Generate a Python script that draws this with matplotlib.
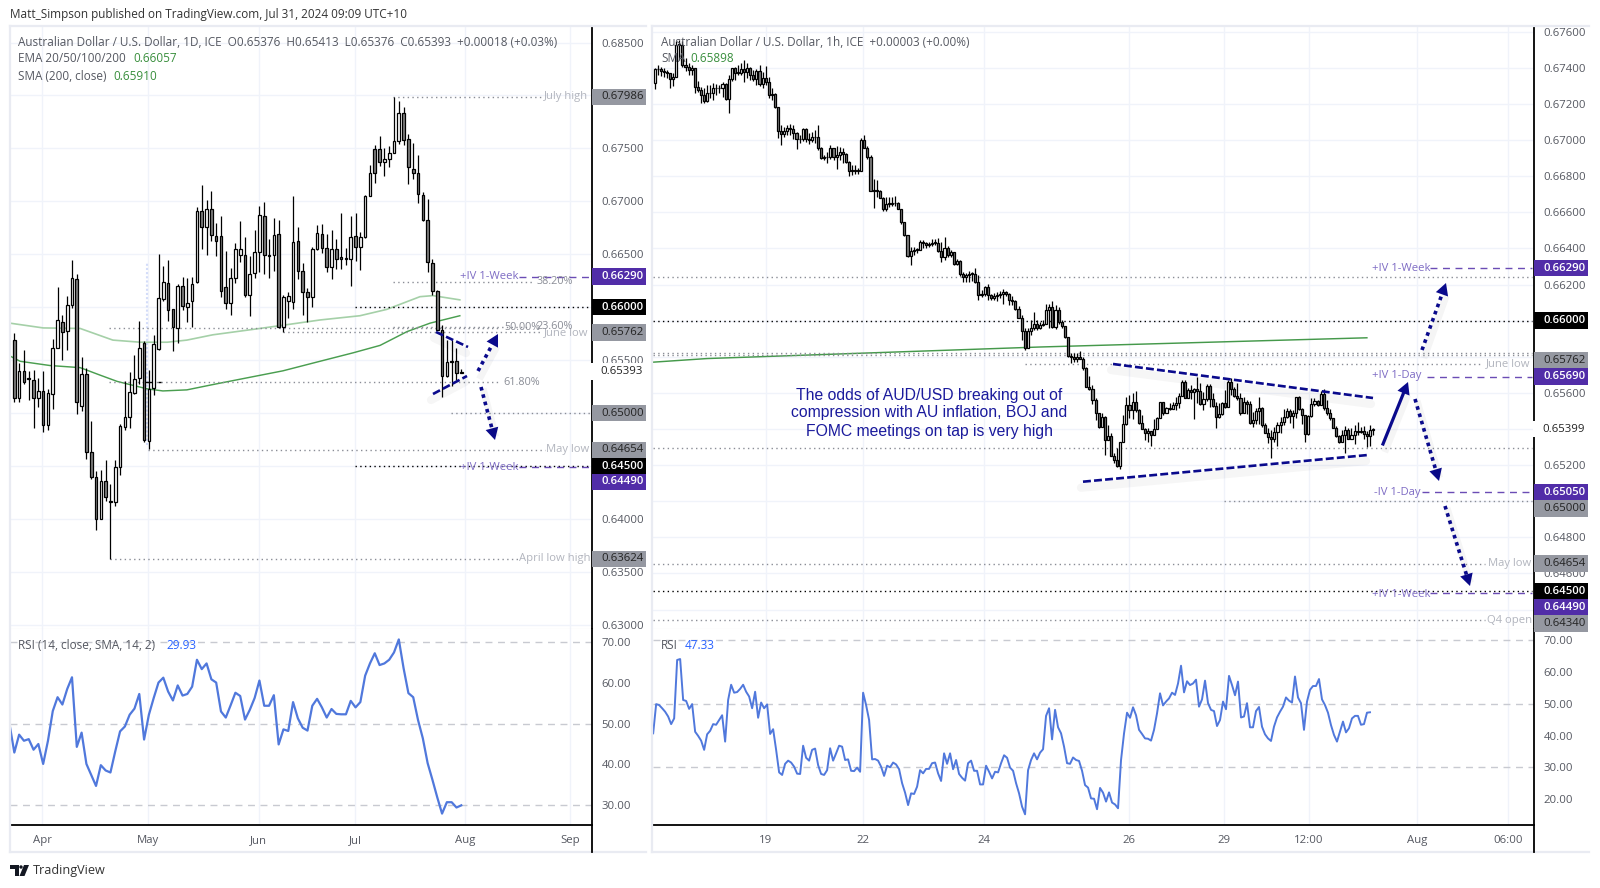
import numpy as np
import matplotlib
matplotlib.use('Agg')
import matplotlib.pyplot as plt
from matplotlib.patches import Rectangle, Polygon

plt.rcParams['font.family'] = ['Open Sans', 'DejaVu Sans']

# daily candles, in pips (1e-4)
d_open = [6569,6514,6540,6533,6531,6514,6521,6489,6518,6562,
          6586,6578,6602,6627,6507,6537,6463,6440,6400,6436,
          6417,6416,6449,6487,6496,6519,6533,6566,6474,6524,
          6561,6608,6623,6598,6580,6620,6600,6606,6624,6691,
          6676,6693,6667,6667,6619,6604,6628,6649,6649,6612,
          6632,6652,6686,6649,6649,6669,6581,6606,6605,6663,
          6634,6614,6610,6655,6669,6656,6638,6655,6647,6646.5,
          6646,6667,6657,6666,6705,6749,6749,6737,6740,6746,
          6757,6783,6759,6731,6727,6706,6682,6642,6615,6579,
          6535,6548,6549,6537.6]
d_high = [6576,6547,6560,6540,6541,6533,6540,6523,6570,6619,
          6593,6611,6645,6631,6553,6543,6493,6445,6446,6456,
          6433,6456,6490,6530,6539,6555,6587,6568,6541,6574,
          6650,6639,6645,6598,6622,6629,6628,6629,6695,6715,
          6701,6710,6680,6686,6653,6637,6661,6681,6666,6648,
          6673,6696,6699,6664,6684,6682,6612,6614,6705,6676,
          6642,6618,6657,6678,6679,6669,6673,6664,6689,6656,
          6686,6689,6671,6706,6734,6753,6762,6750,6752,6799,
          6795,6789,6764,6755,6744,6709,6702,6646,6616,6583,
          6569,6569,6562,6541.3]
d_low = [6511,6511,6528,6512,6486,6506,6482,6484,6504,6562,
         6550,6560,6599,6499,6502,6457,6438,6390,6400,6417,
         6362,6412,6442,6484,6486,6518,6528,6473,6466,6517,
         6560,6606,6587,6559,6566,6597,6586,6581,6623,6655,
         6649,6663,6648,6610,6598,6593,6623,6643,6610,6592,
         6628,6633,6631,6628,6634,6580,6577,6590,6598,6627,
         6593,6586,6600,6654,6651,6633,6627,6636,6636,6640,
         6620,6644,6635,6665,6705,6717,6733,6724,6732,6746,
         6754,6753,6716,6721,6698,6681,6633,6612,6579,6515,
         6534,6526,6531,6537.6]
d_close = [6514,6540,6529,6532,6514,6521,6489,6519,6562,6588,
           6577,6602,6628,6511,6537,6463,6440,6400,6436,6421,
           6416,6449,6488,6496,6520,6532,6562,6475,6523,6565,
           6609,6624,6597,6581,6620,6601,6604,6622,6691,6676,
           6693,6668,6663,6615,6604,6628,6655,6655,6612,6631,
           6652,6687,6649,6648,6668,6581,6610,6611,6662,6634,
           6614,6610,6655,6670,6656,6638,6655,6646,6646,6646,
           6666,6657,6666,6705,6727,6727,6737,6740,6746,6757,
           6783,6758,6732,6727,6707,6682,6643,6615,6579,6535,
           6548,6549,6538,6539.3]

# moving averages on the daily chart
ema_idx = [-0.9,6,13.7,20.5,26.2,31.8,35.9,41.3,51.1,57.4,63.6,71.9,77.5,84.4,87.1,92.7]
ema_val = [6585,6580.5,6580,6569,6567,6567,6569,6574,6580,6584,6588,6592,6598,6610,6611,6607]
sma_idx = [-0.9,1.2,7.4,13.7,17.8,21.4,27.6,30.9,35.9,41.3,46.9,55.9,63.6,70.5,76.1,81.7,86.5,92.7]
sma_val = [6554,6549,6545,6543,6536,6530,6523,6521,6522,6527,6532,6540,6549,6557,6564,6577,6585,6592]

d_rsi = [49.9,42.9,47.3,45.8,46.2,43.6,45.0,40.1,45.8,53.1,56.5,54.7,58.5,61.4,44.3,47.8,40.1,37.4,34.7,39.8,
         38.5,38.0,43.2,48.1,49.3,52.2,53.7,57.3,46.1,52.2,56.3,60.1,61.3,57.9,55.7,59.4,56.9,57.3,59.1,65.7,
         63.4,64.8,60.9,60.1,53.0,51.5,54.5,57.6,56.8,51.0,53.4,56.3,60.6,54.4,54.4,57.0,44.9,48.6,48.2,55.3,
         51.3,49.0,48.3,54.4,56.1,54.0,51.5,53.6,52.4,52.3,52.3,55.6,54.0,55.3,61.8,64.8,67.3,64.4,64.8,65.7,
         67.5,70.7,63.6,57.5,56.5,50.9,46.4,40.3,36.2,31.9,27.9,30.7,30.7,29.4,29.93]

# hourly candles, in pips
h_first_open = 6731.8
h_close = [6739.2,6739.2,6738.4,6737.9,6737.0,6733.6,6735.1,6752.6,6752.6,6741.6,
           6740.6,6738.8,6739.7,6729.6,6727.7,6724.9,6721.8,6725.9,6726.2,6728.6,
           6729.0,6728.6,6731.0,6722.5,6733.6,6739.7,6737.3,6737.3,6739.5,6737.9,
           6739.7,6736.0,6733.6,6738.4,6731.0,6734.2,6732.3,6724.9,6725.5,6718.1,
           6705.2,6703.3,6705.2,6706.5,6705.9,6703.7,6700.4,6700.4,6706.3,6700.6,
           6700.0,6701.9,6701.5,6695.4,6690.2,6690.4,6690.8,6695.4,6690.4,6691.7,
           6693.2,6692.3,6688.0,6683.0,6683.0,6683.0,6683.0,6700.0,6695.9,6690.4,
           6671.9,6672.3,6671.9,6668.2,6661.6,6664.5,6664.5,6664.9,6665.3,6662.1,
           6654.4,6647.4,6635.9,6638.7,6639.1,6639.4,6643.7,6642.8,6641.8,6642.2,
           6643.1,6643.1,6638.7,6635.0,6640.0,6636.3,6638.0,6631.1,6633.2,6625.8,
           6623.9,6625.2,6625.8,6626.1,6621.5,6614.1,6614.7,6618.7,6614.1,6612.8,
           6613.6,6614.1,6615.0,6616.0,6615.0,6611.7,6611.0,6606.7,6601.7,6594.4,
           6585.1,6594.4,6595.7,6598.4,6595.7,
           6597.5,6598.4,6605.8,6607.7,6596.6,6605.8,6599.0,6597.0,6590.7,6580.3,
           6580.0,6579.0,6580.0,6579.0,6573.5,6563.3,6561.9,6556.0,6548.8,
           6541.3,6546.4,6533.9,6536.1,6525.0,6522.8,6519.5,6533.0,6542.7,6553.3,
           6550.5,6555.1,6550.5,6543.1,6540.0,6537.9,6539.0,6536.6,6539.8,6545.9,
           6554.7,6548.6,6551.4,6550.9,6553.3,6554.6,6558.3,6565.8,6557.0,6561.6,
           6560.3,6561.9,6561.0,6553.6,6556.4,6563.8,6556.4,6552.7,6546.4,6548.1,
           6554.6,6552.3,6565.8,6561.9,6558.3,
           6556.9,6549.0,6555.0,6554.1,6543.4,6544.9,6549.9,6551.4,6542.1,6537.9,
           6535.7,6534.7,6538.4,6542.1,6544.0,6546.4,6550.1,6547.1,6548.6,6557.5,
           6550.8,6547.7,6537.1,6547.3,6553.6,6555.6,6553.2,6559.3,6551.4,6548.6,
           6545.8,6540.8,6536.0,6532.9,6536.6,6539.4,6534.7,6536.6,6539.0,6538.1,
           6538.8,6537.0,6536.0,6539.4,6539.9]
h_high = [6739.7,6741.6,6740.6,6739.7,6738.8,6736.0,6737.0,6755.0,6755.4,6755.0,
          6745.3,6742.5,6741.6,6740.1,6732.7,6729.6,6728.6,6730.5,6730.5,6731.4,
          6730.9,6730.5,6732.3,6731.4,6736.0,6740.1,6740.3,6741.6,6742.9,6744.3,
          6742.5,6740.6,6738.8,6739.2,6741.6,6737.9,6741.2,6734.7,6728.6,6726.2,
          6718.5,6708.3,6707.0,6708.3,6708.9,6708.3,6704.6,6702.8,6706.8,6706.5,
          6703.7,6704.6,6705.5,6708.3,6696.3,6691.7,6693.5,6697.2,6695.4,6696.7,
          6696.3,6695.4,6692.6,6688.6,6686.2,6686.2,6684.3,6700.9,6702.8,6696.7,
          6691.7,6678.2,6677.8,6672.3,6668.6,6668.6,6668.6,6668.6,6669.0,6665.8,
          6662.1,6654.8,6647.4,6640.9,6640.9,6640.0,6644.6,6644.6,6643.7,6643.7,
          6645.0,6645.0,6645.5,6643.7,6646.4,6641.3,6639.4,6638.1,6634.4,6633.5,
          6627.0,6626.5,6627.6,6627.0,6629.4,6625.2,6616.9,6619.1,6620.2,6615.0,
          6615.4,6616.0,6616.5,6617.3,6616.5,6615.4,6613.6,6611.4,6608.0,6603.0,
          6595.7,6595.7,6600.3,6604.9,6600.3,
          6599.4,6600.6,6609.1,6609.1,6610.8,6608.6,6607.7,6600.3,6597.0,6591.0,
          6582.2,6581.8,6582.2,6583.1,6580.0,6574.1,6569.2,6564.3,6557.1,
          6548.6,6549.0,6547.2,6542.2,6537.6,6526.5,6529.3,6533.0,6547.7,6557.9,
          6558.8,6559.7,6561.0,6550.9,6547.7,6540.3,6540.3,6539.0,6545.3,6546.8,
          6555.1,6555.1,6552.3,6554.6,6555.1,6557.9,6559.7,6567.1,6567.1,6562.5,
          6564.3,6562.5,6568.6,6565.3,6560.7,6564.9,6564.9,6559.7,6555.1,6554.2,
          6555.1,6561.6,6567.1,6568.0,6563.4,
          6565.2,6559.7,6557.8,6556.0,6555.6,6549.5,6551.4,6557.5,6551.9,6543.4,
          6540.3,6539.4,6541.2,6544.0,6546.4,6550.8,6551.4,6550.8,6550.4,6557.8,
          6558.2,6551.4,6548.0,6547.7,6556.9,6556.9,6556.3,6561.1,6562.4,6556.0,
          6550.8,6546.2,6541.6,6536.6,6539.4,6541.6,6540.8,6540.3,6542.1,6544.0,
          6541.2,6541.6,6539.0,6542.1,6540.6]
h_low = [6728.1,6736.0,6735.5,6735.1,6734.2,6729.0,6729.9,6734.7,6744.3,6740.6,
         6738.4,6736.0,6736.0,6726.2,6726.8,6720.7,6720.3,6721.2,6723.1,6722.2,
         6724.9,6725.9,6724.0,6722.2,6715.2,6732.9,6733.3,6736.0,6736.0,6732.3,
         6734.2,6733.3,6732.9,6730.5,6730.1,6728.6,6730.5,6723.1,6722.2,6717.7,
         6700.9,6697.2,6701.9,6702.8,6702.8,6700.4,6694.8,6698.2,6699.6,6699.1,
         6697.8,6699.1,6698.2,6694.5,6689.3,6688.9,6687.1,6689.8,6688.9,6683.8,
         6688.9,6687.1,6687.1,6680.1,6680.6,6681.2,6681.5,6684.3,6695.4,6689.8,
         6671.6,6662.5,6668.6,6667.7,6660.9,6660.9,6663.1,6663.4,6663.4,6661.6,
         6653.8,6646.8,6635.4,6630.8,6636.3,6637.6,6639.4,6640.0,6640.5,6640.9,
         6641.3,6641.8,6638.1,6632.6,6633.5,6635.0,6635.0,6630.8,6630.8,6624.6,
         6621.5,6621.5,6621.5,6622.1,6620.9,6611.7,6613.2,6613.6,6611.4,6611.4,
         6611.4,6611.0,6612.3,6609.1,6613.6,6608.6,6608.6,6605.8,6601.2,6589.2,
         6583.6,6584.6,6592.0,6594.7,6594.7,
         6595.1,6597.0,6597.9,6596.2,6596.2,6595.1,6597.9,6596.2,6590.3,6580.0,
         6576.6,6577.2,6577.2,6578.5,6572.9,6563.0,6561.5,6554.1,6544.9,
         6540.3,6541.3,6525.6,6533.9,6525.0,6520.9,6518.7,6517.6,6533.0,6542.2,
         6545.9,6545.3,6549.6,6542.7,6539.8,6533.9,6533.0,6530.5,6536.6,6539.8,
         6545.9,6547.7,6549.0,6550.5,6550.9,6550.5,6551.4,6558.8,6557.0,6557.3,
         6556.4,6545.3,6554.2,6553.3,6550.5,6555.7,6552.3,6552.3,6540.7,6545.9,
         6547.7,6551.4,6554.7,6558.8,6557.9,
         6556.3,6548.0,6548.6,6548.2,6543.0,6541.2,6543.0,6542.7,6541.2,6537.5,
         6532.3,6524.0,6532.9,6530.5,6537.9,6542.1,6545.8,6543.4,6540.8,6545.8,
         6550.4,6542.7,6532.9,6536.6,6546.7,6552.7,6552.7,6554.1,6550.4,6547.7,
         6544.9,6540.3,6535.7,6532.5,6533.4,6526.8,6534.2,6534.7,6531.6,6536.6,
         6537.5,6534.7,6530.1,6530.5,6536.6]

h_sma_idx = [-0.5,17,125,231]
h_sma_val = [6577,6579,6585.4,6590.5]

h_rsi = [40.7,49.9,49.6,48.6,47.5,46.0,43.6,45.4,63.8,64.1,51.2,50.9,48.4,49.9,41.2,39.9,38.4,35.5,40.4,41.5,
         43.6,43.4,44.9,46.4,38.1,51.2,56.0,53.5,53.7,54.7,56.0,53.8,52.3,48.6,53.8,45.6,50.4,48.6,49.8,40.5,
         42.0,35.5,28.4,27.6,31.1,32.1,31.5,30.2,28.0,27.9,36.8,33.0,32.1,35.5,35.9,30.7,27.9,27.6,29.1,36.0,
         32.1,34.4,36.8,36.5,32.3,32.5,28.9,28.8,29.9,28.6,53.5,49.6,44.9,32.5,32.6,32.1,30.2,27.3,30.5,30.0,
         31.5,30.9,29.4,25.0,22.0,18.1,21.8,21.6,23.9,29.1,28.1,29.5,29.5,31.3,31.5,28.1,25.7,34.4,31.1,34.4,
         29.4,32.3,27.9,26.7,25.8,31.3,32.1,28.9,28.9,24.6,24.6,30.5,28.6,26.5,28.6,28.4,31.3,33.8,33.0,29.9,
         28.9,25.0,21.8,17.6,15.2,29.1,32.3,34.4,32.5,34.6,35.7,46.2,48.6,38.8,48.1,42.6,40.7,36.5,31.3,31.1,
         33.1,32.3,32.0,28.9,24.4,23.6,20.2,20.1,16.8,23.5,22.0,19.2,22.1,18.9,18.3,17.1,32.3,40.7,47.2,45.6,
         48.9,46.4,41.8,40.5,39.1,39.0,38.4,41.8,47.0,53.3,49.5,50.7,51.7,53.5,52.8,56.4,62.0,53.6,57.1,55.9,
         56.4,57.6,49.1,51.4,57.3,50.2,48.1,47.7,43.0,44.9,50.7,48.3,58.8,55.9,52.7,57.0,45.7,46.0,50.2,42.6,
         42.6,47.7,49.0,42.8,40.4,39.1,38.3,42.8,45.7,47.5,49.1,52.0,51.0,50.4,58.6,52.0,50.2,41.8,50.7,54.4,
         55.6,55.6,57.8,51.4,49.6,47.2,43.3,40.2,38.1,41.2,44.4,41.0,42.3,45.4,46.2,46.2,43.4,43.6,47.2,47.33]

d_ticks = [0.685,0.68,0.675,0.67,0.665,0.66,0.655,0.65,0.645,0.64,0.635,0.63]
h_ticks = [0.676,0.674,0.672,0.67,0.668,0.666,0.664,0.662,0.66,0.658,0.656,0.654,0.652,0.65,0.648,0.646,0.644]
rsi_ticks = [70,60,50,40,30]
h_rsi_ticks = [70,60,50,40,30,20]
d_time_pos = [5.8,27.8,50.9,70.9,93.8,115.7]
d_time_lab = ['Apr','May','Jun','Jul','Aug','Sep']
h_time_pos = [36.1,67.6,106.8,153.7,184.7,212.2,247.2,276.8]
h_time_lab = ['19','22','24','26','29','12:00','Aug','06:00']

W, H = 1600, 888
GRID = '#f0f3fa'
TXT = '#555861'
LVL = '#8a8d96'
LAB = '#b2b5be'
IV = '#7e6cc4'
NAVY = '#0a0a8c'
GREY_BOX = '#9598a1'
PURPLE = '#512da8'


def px_axes(x0, y0, x1, y1):
    return fig.add_axes([x0 / W, 1 - y1 / H, (x1 - x0) / W, (y1 - y0) / H])


def style_axes(ax):
    ax.yaxis.tick_right()
    ax.tick_params(axis='both', length=0, labelsize=8.2, labelcolor=TXT, pad=7)
    for s in ['top', 'left']:
        ax.spines[s].set_visible(False)
    ax.spines['right'].set_color('black')
    ax.spines['right'].set_linewidth(1.3)


def draw_candles(ax, o, h, l, c, width):
    x = np.arange(len(c))
    o, h, l, c = [np.array(v) / 1e4 for v in (o, h, l, c)]
    ax.vlines(x, l, h, color='black', lw=0.9, zorder=3)
    colors = ['white' if cc >= oo else '#808080' for oo, cc in zip(o, c)]
    bodies = np.maximum(np.abs(c - o), 0.00004)
    ax.bar(x, bodies, bottom=np.minimum(o, c), width=width, color=colors,
           edgecolor='black', linewidth=0.9, zorder=4)


fig = plt.figure(figsize=(16, 8.88), dpi=100, facecolor='white')

# --- daily chart ---
ax1 = px_axes(10, 26, 592, 629)
ax1.set_xlim(-0.9, 120.2)
ax1.set_ylim(0.62962, 0.68656)
style_axes(ax1)
ax1.spines['bottom'].set_color('#e0e3eb')
ax1.set_yticks(d_ticks)
# the boxes below carry these three prices
ax1.set_yticklabels(['' if t in (0.66, 0.65, 0.645) else '%.5f' % t for t in d_ticks])
ax1.set_xticks(d_time_pos)
ax1.set_xticklabels([])
ax1.grid(True, color=GRID, lw=1, zorder=0)
ax1.set_axisbelow(True)

ax1.vlines(27.6, 0.647, 0.66418, color='#d3dcf9', lw=1.5, ls=(0, (1, 1)), zorder=2)
ax1.plot(np.array(ema_idx), np.array(ema_val) / 1e4, color='#a5d0a8', lw=1.2, zorder=2)
ax1.plot(np.array(sma_idx), np.array(sma_val) / 1e4, color='#4a9e50', lw=1.05, zorder=2)
draw_candles(ax1, d_open, d_high, d_low, d_close, 0.55)
ax1.hlines([0.6529, 0.6529], [27.2, 29.8], [28.6, 30.6], color='black', lw=1, zorder=3)

dot = (0, (1, 2.4))
for price, x0, x1 in [(0.67986, 78.8, 109.8), (0.6624, 78.8, 107.9), (0.65817, 78.8, 107),
                      (0.65805, 19.7, 100.6), (0.65762, 55.9, 109.4), (0.65292, 19.7, 100.6),
                      (0.65, 90.9, 119.8), (0.64654, 27.8, 110.4), (0.63624, 19.9, 105)]:
    ax1.hlines(price, x0, x1, color=LVL, lw=1, ls=dot, zorder=2)
for price in [0.66, 0.645]:
    ax1.hlines(price, 70.9, 119.8, color='black', lw=1, ls=dot, zorder=2)
for price in [0.6629, 0.6449]:
    ax1.hlines(price, 105, 119.8, color=PURPLE, lw=1, ls=(0, (5, 4)), alpha=0.85, zorder=2)

ax2 = px_axes(10, 629, 592, 825)
ax2.set_xlim(-0.9, 120.2)
ax2.set_ylim(25.1, 73.26)
style_axes(ax2)
ax2.spines['bottom'].set_color('black')
ax2.spines['bottom'].set_linewidth(1.3)
ax2.set_yticks(rsi_ticks)
ax2.set_yticklabels(['%.2f' % t for t in rsi_ticks])
ax2.set_xticks(d_time_pos)
ax2.set_xticklabels(d_time_lab)
ax2.grid(True, axis='x', color=GRID, lw=1, zorder=0)
ax2.set_axisbelow(True)
ax2.hlines([70, 50, 30], -0.9, 120.2, color='#c8cad1', lw=1, ls=(0, (5, 4)), zorder=1)
ax2.plot(np.arange(len(d_rsi)) - 1, d_rsi, color='#5078dc', lw=1.6, zorder=3)

# --- hourly chart ---
H_XLIM = (-0.55, 285.2)
ax3 = px_axes(653, 26, 1534, 629)
ax3.set_xlim(*H_XLIM)
ax3.set_ylim(0.64292, 0.67632)
style_axes(ax3)
ax3.spines['bottom'].set_color('#e0e3eb')
ax3.set_yticks(h_ticks)
ax3.set_yticklabels(['' if t in (0.66, 0.654, 0.65, 0.644) else '%.5f' % t for t in h_ticks])
ax3.set_xticks(h_time_pos)
ax3.set_xticklabels([])
ax3.grid(True, color=GRID, lw=1, zorder=0)
ax3.set_axisbelow(True)

ax3.plot(h_sma_idx, np.array(h_sma_val) / 1e4, color='#45994b', lw=1.05, zorder=2)
h_open = [h_first_open] + h_close[:-1]
draw_candles(ax3, h_open, h_high, h_low, h_close, 0.68)

x_end = 284.6
for price, x0, x1 in [(0.6624, -0.55, x_end), (0.65822, -0.55, x_end), (0.6581, -0.55, x_end),
                      (0.65762, 120, 268.7), (0.65293, -0.55, x_end), (0.65, 184.8, x_end),
                      (0.64654, -0.55, 269.3), (0.6434, -0.55, 269.3)]:
    ax3.hlines(price, x0, x1, color=LVL, lw=1, ls=dot, zorder=2)
for price in [0.66, 0.645]:
    ax3.hlines(price, -0.55, x_end, color='black', lw=1, ls=dot, zorder=2)
for price, x0 in [(0.6629, 251.5), (0.6569, 250.5), (0.6505, 248.9), (0.6449, 251.5)]:
    ax3.hlines(price, x0, x_end, color=PURPLE, lw=1, ls=(0, (5, 4)), alpha=0.85, zorder=2)

ax4 = px_axes(653, 629, 1534, 825)
ax4.set_xlim(*H_XLIM)
ax4.set_ylim(11.83, 73.56)
style_axes(ax4)
ax4.spines['bottom'].set_color('black')
ax4.spines['bottom'].set_linewidth(1.3)
ax4.set_yticks(h_rsi_ticks)
ax4.set_yticklabels(['%.2f' % t for t in h_rsi_ticks])
ax4.set_xticks(h_time_pos)
ax4.set_xticklabels(h_time_lab)
ax4.grid(True, axis='x', color=GRID, lw=1, zorder=0)
ax4.set_axisbelow(True)
ax4.hlines([70, 50, 30], *H_XLIM, color='#c8cad1', lw=1, ls=(0, (5, 4)), zorder=1)
# the rsi list was read a little denser than the candles, so it spans the same bars
ax4.plot(np.linspace(-0.5, 232, len(h_rsi)), h_rsi, color='#5078dc', lw=1.4, zorder=3)

# --- overlay in pixels: labels, drawings, frame ---
ov = fig.add_axes([0, 0, 1, 1], facecolor='none', zorder=20)
ov.set_xlim(0, W)
ov.set_ylim(H, 0)
ov.axis('off')


def txt(x, y, s, color=TXT, size=8.5, ha='left', **kw):
    ov.text(x, y, s, color=color, fontsize=size, ha=ha, va='center', **kw)


def price_y(ax, price):
    return H - ax.transData.transform((0, price))[1]


def level_box(x, y, label, bg, fg):
    ov.add_patch(Rectangle((x, y - 8.2), 54, 16.4, color=bg, lw=0, zorder=5))
    ov.text(x + 9, y, label, color=fg, fontsize=8.2, va='center', zorder=6,
            fontweight='semibold' if fg == 'white' else 'normal')


def trend(p0, p1):
    xs, ys = [p0[0], p1[0]], [p0[1], p1[1]]
    ov.plot([x - 2 for x in xs], [y + 6 for y in ys], color='black', alpha=0.035, lw=6, solid_capstyle='round')
    ov.plot(xs, ys, color=NAVY, lw=1.9, ls=(0, (3, 1.2)))


def arrow(p0, p1, dotted=True):
    p0, p1 = np.array(p0, float), np.array(p1, float)
    d = (p1 - p0) / np.hypot(*(p1 - p0))
    n = np.array([-d[1], d[0]])
    base = p1 - d * 12
    sh = np.array([3, 5])
    ov.plot([p0[0] + sh[0], base[0] + sh[0]], [p0[1] + sh[1], base[1] + sh[1]],
            color='black', alpha=0.04, lw=5)
    ov.plot([p0[0], base[0]], [p0[1], base[1]], color=NAVY, lw=2.6 if dotted else 2.3,
            ls=(0, (1, 1.1)) if dotted else '-')
    ov.add_patch(Polygon([p1, base + n * 6.5, base - n * 6.5], color=NAVY, lw=0))


# frame
for x0, x1 in [(10, 646), (652, 1589)]:
    ov.plot([x0, x1], [26, 26], color='#e9ebf2', lw=1.6)
    ov.plot([x0, x1], [852, 852], color='#e9ebf2', lw=1.6)
ov.plot([10, 10], [26, 852], color='#e9ebf2', lw=1.6)
ov.plot([652, 652], [26, 852], color='#e9ebf2', lw=1.6)
ov.plot([592, 592], [825, 852], color='black', lw=1.3)
ov.plot([1534, 1534], [825, 852], color='black', lw=1.3)

txt(10, 14.5, 'Matt_Simpson published on TradingView.com, Jul 31, 2024 09:09 UTC+10', color='#333333')

# legends
txt(18, 42, 'Australian Dollar / U.S. Dollar, 1D, ICE  O0.65376  H0.65413  L0.65376  C0.65393  +0.00018 (+0.03%)')
txt(18, 59, 'EMA 20/50/100/200')
txt(133, 59, '0.66057', color='#388e3c')
txt(18, 76, 'SMA (200, close)')
txt(113, 76, '0.65910', color='#388e3c')
txt(18, 645, 'RSI (14, close, SMA, 14, 2)')
txt(166, 645, '29.93', color='#2962ff')
txt(661, 42, 'Australian Dollar / U.S. Dollar, 1h, ICE  +0.00003 (+0.00%)')
txt(661, 58, 'SMA')
txt(690, 58, '0.65898', color='#388e3c')
txt(661, 645, 'RSI')
txt(685, 645, '47.33', color='#2962ff')

# chart level texts, daily
for x, price, s in [(566, 0.67986, 'July high'), (566, 0.65762, 'June low'), (568, 0.64654, 'May low'),
                    (555, 0.63624, 'April low high')]:
    txt(x, price_y(ax1, price), s, color=LAB, ha='center', size=8.1)
for x, price, s in [(555, 0.6624, '38.20%'), (555, 0.6582, '23.60%'), (522, 0.65805, '50.00%'), (522, 0.65292, '61.80%')]:
    txt(x, price_y(ax1, price), s, color='#8a8d96', ha='center', size=7.8)
txt(489, price_y(ax1, 0.6629), '+IV 1-Week', color=IV, ha='center', size=8.1)
txt(489, price_y(ax1, 0.6449), '+IV 1-Week', color=IV, ha='center', size=8.1)

# chart level texts, hourly
for x, price, s in [(1508, 0.65762, 'June low'), (1510, 0.64654, 'May low'), (1510, 0.6434, 'Q4 open')]:
    txt(x, price_y(ax3, price), s, color=LAB, ha='center', size=8.1)
txt(1401, price_y(ax3, 0.6629), '+IV 1-Week', color=IV, ha='center', size=8.1)
txt(1397, price_y(ax3, 0.6569) - 1, '+IV 1-Day', color=IV, ha='center', size=8.1)
txt(1397, price_y(ax3, 0.6505), '-IV 1-Day', color=IV, ha='center', size=8.1)
txt(1401, price_y(ax3, 0.6449) + 1, '+IV 1-Week', color=IV, ha='center', size=8.1)

# price boxes, daily
for price, s, bg, fg in [(0.67986, '0.67986', GREY_BOX, '#222222'), (0.6629, '0.66290', PURPLE, 'white'),
                         (0.66, '0.66000', 'black', 'white'), (0.65762, '0.65762', GREY_BOX, '#222222'),
                         (0.65, '0.65000', GREY_BOX, '#222222'), (0.64654, '0.64654', GREY_BOX, '#222222'),
                         (0.645, '0.64500', 'black', 'white'), (0.63624, '0.63624', GREY_BOX, '#222222')]:
    level_box(592, price_y(ax1, price), s, bg, fg)
level_box(592, price_y(ax1, 0.645) + 15.6, '0.64490', PURPLE, 'white')
level_box(591.2, price_y(ax1, 0.65393), '0.65393', 'white', '#222222')

# price boxes, hourly
for price, s, bg, fg in [(0.6629, '0.66290', PURPLE, 'white'), (0.66, '0.66000', 'black', 'white'),
                         (0.6569, '0.65690', PURPLE, 'white'),
                         (0.6505, '0.65050', PURPLE, 'white'), (0.64654, '0.64654', GREY_BOX, '#222222'),
                         (0.645, '0.64500', 'black', 'white')]:
    level_box(1534, price_y(ax3, price), s, bg, fg)
level_box(1534, price_y(ax3, 0.6569) - 16.5, '0.65762', GREY_BOX, '#222222')
level_box(1534, price_y(ax3, 0.6505) + 16.5, '0.65000', GREY_BOX, '#222222')
level_box(1534, price_y(ax3, 0.645) + 15.7, '0.64490', PURPLE, 'white')
level_box(1534, price_y(ax3, 0.645) + 32, '0.64340', GREY_BOX, '#222222')
level_box(1533.2, price_y(ax3, 0.65399), '0.65399', 'white', '#222222')

# drawings
trend((436, 332), (468, 347))
trend((433, 394), (467, 376))
arrow((478, 371), (498, 334))
arrow((481, 387), (495, 440))
trend((1113, 364), (1373, 398))
trend((1083, 481.7), (1368, 455))
arrow((1383, 444), (1408, 382), dotted=False)
arrow((1422, 350), (1446, 283))
arrow((1415, 399), (1439, 481))
arrow((1445, 506), (1470, 586))

for y, s in [(395, 'The odds of AUD/USD breaking out of'),
             (412.5, 'compression with AU inflation, BOJ and'),
             (431, 'FOMC meetings on tap is very high')]:
    ov.text(929, y, s, color='#1a1a9c', fontsize=11.3, ha='center', va='center', family='Liberation Sans')

# TradingView mark
ov.add_patch(Polygon([(10, 865), (19, 865), (19, 876), (14.5, 876), (14.5, 869), (10, 869)], color='#131722', lw=0))
ov.add_patch(Polygon([(24, 865), (29, 865), (24.5, 876), (19.5, 876)], color='#131722', lw=0))
ov.add_patch(plt.Circle((21, 867), 1.7, color='#131722', lw=0))
txt(33, 870.5, 'TradingView', color='#333333', size=9.1)

fig.savefig('out.png', dpi=100, facecolor='white')
